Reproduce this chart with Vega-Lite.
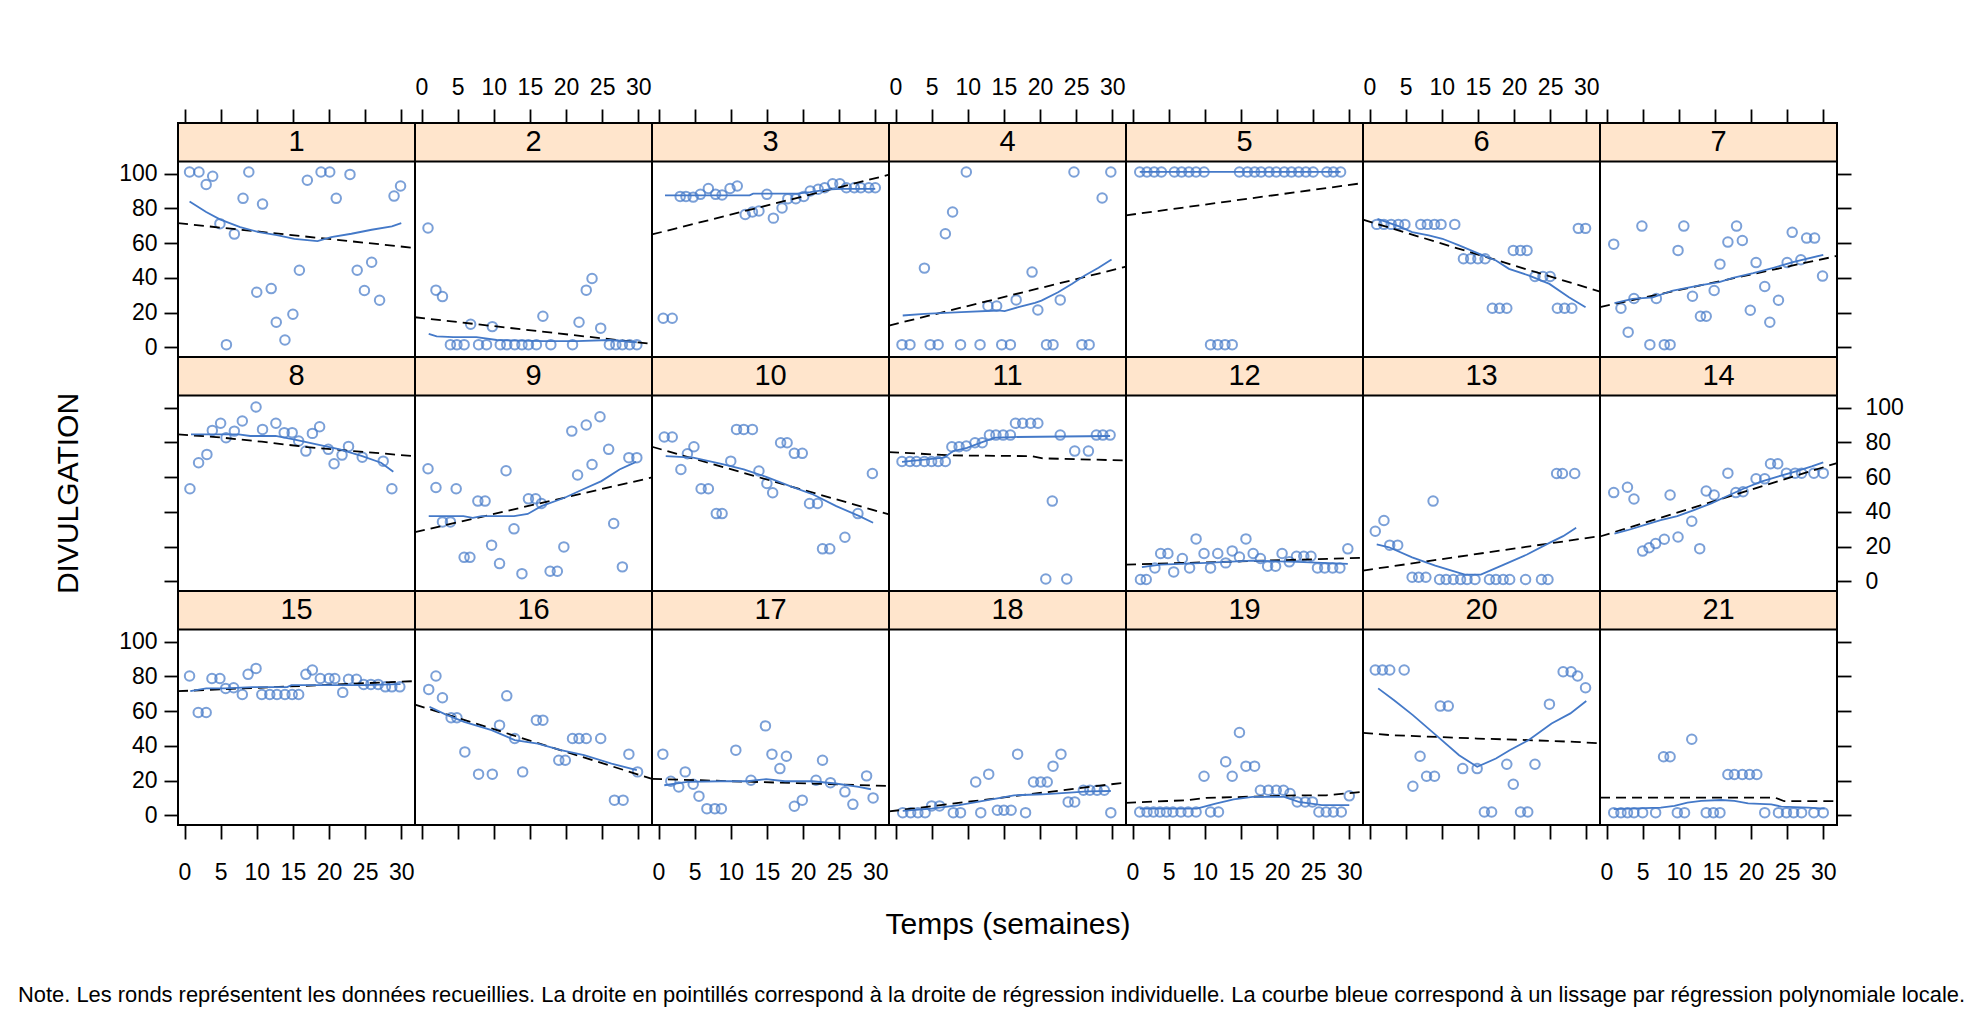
{
"$schema":"https://vega.github.io/schema/vega-lite/v6.json",
"padding":{"left":18,"top":75,"right":5,"bottom":5},
"background":"white",
"title":{"text":"Note. Les ronds représentent les données recueillies. La droite en pointillés correspond à la droite de régression individuelle. La courbe bleue correspond à un lissage par régression polynomiale locale.","orient":"bottom","anchor":"start","frame":"group","dx":-160,"offset":45,"font":"Liberation Sans","fontSize":21.9,"fontWeight":"normal","color":"black"},
"config":{
"view":{"stroke":"black","strokeWidth":2},
"axis":{"domain":false,"grid":false,"ticks":true,"tickSize":14,"tickWidth":1.8,"tickColor":"black","labelFont":"Liberation Sans","labelFontSize":23,"labelColor":"black","labelFlush":false,"labelOverlap":false,"titleFont":"Liberation Sans","titleFontSize":30,"titleFontWeight":"normal","titleColor":"black"},
"point":{"shape":"circle","filled":false,"color":"#4479C8","strokeWidth":2,"size":90},
"line":{"color":"#4479C8","strokeWidth":1.8},
"rect":{"fill":"#FFE5CC","stroke":"black","strokeWidth":2},
"text":{"font":"Liberation Sans","fontSize":29,"fill":"black"}
},
"datasets":{
"pts":[
{"p":1,"x":0.7,"y":101},{"p":1,"x":2.0,"y":101},{"p":1,"x":3.0,"y":93.8},{"p":1,"x":3.9,"y":98.5},{"p":1,"x":4.9,"y":71.2},{"p":1,"x":5.8,"y":1.5},{"p":1,"x":6.9,"y":65.2},{"p":1,"x":8.1,"y":85.8},{"p":1,"x":8.9,"y":101},{"p":1,"x":10.0,"y":31.7},{"p":1,"x":10.8,"y":82.5},{"p":1,"x":12.0,"y":33.8},{"p":1,"x":12.7,"y":14.4},{"p":1,"x":13.9,"y":4.2},{"p":1,"x":15.0,"y":19},{"p":1,"x":15.9,"y":44.4},{"p":1,"x":17.0,"y":96.2},{"p":1,"x":18.9,"y":101},{"p":1,"x":20.1,"y":101},{"p":1,"x":21.0,"y":85.8},{"p":1,"x":22.9,"y":99.6},{"p":1,"x":23.9,"y":44.4},{"p":1,"x":24.9,"y":32.7},{"p":1,"x":25.9,"y":49},{"p":1,"x":27.0,"y":27.1},{"p":1,"x":29.0,"y":87.1},{"p":1,"x":29.9,"y":92.9},
{"p":2,"x":0.9,"y":68.7},{"p":2,"x":2.0,"y":32.9},{"p":2,"x":2.9,"y":29.2},{"p":2,"x":4.0,"y":1.5},{"p":2,"x":4.9,"y":1.5},{"p":2,"x":5.9,"y":1.5},{"p":2,"x":6.8,"y":13.3},{"p":2,"x":7.9,"y":1.5},{"p":2,"x":9.0,"y":1.5},{"p":2,"x":9.8,"y":11.9},{"p":2,"x":10.9,"y":1.5},{"p":2,"x":11.8,"y":1.5},{"p":2,"x":12.9,"y":1.5},{"p":2,"x":13.9,"y":1.5},{"p":2,"x":14.8,"y":1.5},{"p":2,"x":15.9,"y":1.5},{"p":2,"x":16.8,"y":17.9},{"p":2,"x":17.9,"y":1.5},{"p":2,"x":20.9,"y":1.5},{"p":2,"x":21.8,"y":14.4},{"p":2,"x":22.8,"y":32.9},{"p":2,"x":23.6,"y":39.6},{"p":2,"x":24.8,"y":11.0},{"p":2,"x":26.0,"y":1.5},{"p":2,"x":26.9,"y":1.5},{"p":2,"x":27.8,"y":1.5},{"p":2,"x":28.8,"y":1.5},{"p":2,"x":29.8,"y":1.5},
{"p":3,"x":0.65,"y":16.7},{"p":3,"x":1.9,"y":16.7},{"p":3,"x":3.0,"y":86.9},{"p":3,"x":3.8,"y":86.9},{"p":3,"x":4.8,"y":86.5},{"p":3,"x":5.8,"y":88.1},{"p":3,"x":6.9,"y":91.5},{"p":3,"x":7.9,"y":88.1},{"p":3,"x":8.8,"y":87.7},{"p":3,"x":9.9,"y":91.5},{"p":3,"x":10.9,"y":92.9},{"p":3,"x":12.0,"y":76.5},{"p":3,"x":13.0,"y":77.9},{"p":3,"x":13.9,"y":78.5},{"p":3,"x":15.0,"y":88.1},{"p":3,"x":15.9,"y":74.4},{"p":3,"x":17.1,"y":80.2},{"p":3,"x":17.9,"y":85.6},{"p":3,"x":19.0,"y":85.6},{"p":3,"x":20.1,"y":86.9},{"p":3,"x":21.0,"y":90},{"p":3,"x":22.1,"y":91},{"p":3,"x":23.0,"y":91.9},{"p":3,"x":24.1,"y":94.2},{"p":3,"x":25.1,"y":94.2},{"p":3,"x":26.0,"y":91.9},{"p":3,"x":27.1,"y":91.9},{"p":3,"x":28.0,"y":91.9},{"p":3,"x":29.1,"y":91.9},{"p":3,"x":30.0,"y":91.9},
{"p":4,"x":0.9,"y":1.5},{"p":4,"x":2.0,"y":1.5},{"p":4,"x":4.0,"y":45.6},{"p":4,"x":4.8,"y":1.5},{"p":4,"x":5.9,"y":1.5},{"p":4,"x":6.9,"y":65.4},{"p":4,"x":7.9,"y":77.9},{"p":4,"x":9.0,"y":1.5},{"p":4,"x":9.8,"y":101},{"p":4,"x":11.7,"y":1.5},{"p":4,"x":12.8,"y":23.8},{"p":4,"x":14.0,"y":23.8},{"p":4,"x":14.7,"y":1.5},{"p":4,"x":15.9,"y":1.5},{"p":4,"x":16.7,"y":27.3},{"p":4,"x":18.9,"y":43.3},{"p":4,"x":19.7,"y":21.5},{"p":4,"x":20.9,"y":1.5},{"p":4,"x":21.8,"y":1.5},{"p":4,"x":22.8,"y":27.3},{"p":4,"x":24.7,"y":101},{"p":4,"x":25.8,"y":1.5},{"p":4,"x":26.8,"y":1.5},{"p":4,"x":28.6,"y":86},{"p":4,"x":29.8,"y":101},
{"p":5,"x":1.0,"y":101},{"p":5,"x":2.0,"y":101},{"p":5,"x":3.0,"y":101},{"p":5,"x":4.0,"y":101},{"p":5,"x":5.8,"y":101},{"p":5,"x":6.8,"y":101},{"p":5,"x":7.8,"y":101},{"p":5,"x":8.8,"y":101},{"p":5,"x":9.9,"y":101},{"p":5,"x":10.8,"y":1.5},{"p":5,"x":11.8,"y":1.5},{"p":5,"x":12.8,"y":1.5},{"p":5,"x":13.8,"y":1.5},{"p":5,"x":14.8,"y":101},{"p":5,"x":15.9,"y":101},{"p":5,"x":16.9,"y":101},{"p":5,"x":17.8,"y":101},{"p":5,"x":18.9,"y":101},{"p":5,"x":19.9,"y":101},{"p":5,"x":21.0,"y":101},{"p":5,"x":22.0,"y":101},{"p":5,"x":23.0,"y":101},{"p":5,"x":24.0,"y":101},{"p":5,"x":25.0,"y":101},{"p":5,"x":26.9,"y":101},{"p":5,"x":27.8,"y":101},{"p":5,"x":28.8,"y":101},
{"p":6,"x":1.0,"y":70.8},{"p":6,"x":2.0,"y":70.8},{"p":6,"x":3.0,"y":70.8},{"p":6,"x":4.0,"y":70.8},{"p":6,"x":4.9,"y":70.8},{"p":6,"x":7.1,"y":70.8},{"p":6,"x":8.0,"y":70.8},{"p":6,"x":9.0,"y":70.8},{"p":6,"x":9.9,"y":70.8},{"p":6,"x":11.8,"y":70.8},{"p":6,"x":13.0,"y":51},{"p":6,"x":14.0,"y":51},{"p":6,"x":15.0,"y":51},{"p":6,"x":16.0,"y":51},{"p":6,"x":17.0,"y":22.5},{"p":6,"x":18.0,"y":22.5},{"p":6,"x":19.0,"y":22.5},{"p":6,"x":19.9,"y":55.8},{"p":6,"x":20.9,"y":55.8},{"p":6,"x":21.8,"y":55.8},{"p":6,"x":22.9,"y":40.8},{"p":6,"x":24.0,"y":40.8},{"p":6,"x":25.0,"y":40.8},{"p":6,"x":26.0,"y":22.5},{"p":6,"x":27.0,"y":22.5},{"p":6,"x":28.0,"y":22.5},{"p":6,"x":28.9,"y":68.5},{"p":6,"x":29.9,"y":68.5},
{"p":7,"x":1.0,"y":59.4},{"p":7,"x":2.0,"y":22.5},{"p":7,"x":3.0,"y":8.7},{"p":7,"x":3.8,"y":28.1},{"p":7,"x":4.9,"y":69.8},{"p":7,"x":6.0,"y":1.5},{"p":7,"x":6.9,"y":28.1},{"p":7,"x":8.0,"y":1.5},{"p":7,"x":8.8,"y":1.5},{"p":7,"x":9.9,"y":55.8},{"p":7,"x":10.7,"y":69.8},{"p":7,"x":11.9,"y":29.4},{"p":7,"x":13.0,"y":17.9},{"p":7,"x":13.8,"y":17.9},{"p":7,"x":14.9,"y":32.7},{"p":7,"x":15.7,"y":47.9},{"p":7,"x":16.8,"y":60.6},{"p":7,"x":18.0,"y":69.8},{"p":7,"x":18.8,"y":61.5},{"p":7,"x":19.9,"y":21.3},{"p":7,"x":20.7,"y":48.8},{"p":7,"x":21.9,"y":35},{"p":7,"x":22.6,"y":14.4},{"p":7,"x":23.8,"y":27.1},{"p":7,"x":25.0,"y":48.8},{"p":7,"x":25.7,"y":66.2},{"p":7,"x":26.9,"y":50.4},{"p":7,"x":27.7,"y":62.9},{"p":7,"x":28.8,"y":62.9},{"p":7,"x":29.9,"y":41},
{"p":8,"x":0.75,"y":53.3},{"p":8,"x":1.95,"y":68.3},{"p":8,"x":3.1,"y":73.1},{"p":8,"x":3.85,"y":86.9},{"p":8,"x":5.0,"y":91},{"p":8,"x":5.75,"y":82.7},{"p":8,"x":6.9,"y":86.5},{"p":8,"x":8.0,"y":92.3},{"p":8,"x":9.9,"y":100.4},{"p":8,"x":10.8,"y":87.5},{"p":8,"x":12.65,"y":91},{"p":8,"x":13.8,"y":85.6},{"p":8,"x":14.9,"y":85.6},{"p":8,"x":15.8,"y":80.8},{"p":8,"x":16.8,"y":75},{"p":8,"x":17.7,"y":85.2},{"p":8,"x":18.7,"y":89},{"p":8,"x":19.9,"y":76},{"p":8,"x":20.7,"y":67.7},{"p":8,"x":21.8,"y":72.7},{"p":8,"x":22.7,"y":77.7},{"p":8,"x":24.6,"y":71.5},{"p":8,"x":27.5,"y":69.2},{"p":8,"x":28.7,"y":53.3},
{"p":9,"x":0.9,"y":64.8},{"p":9,"x":2.0,"y":54},{"p":9,"x":2.9,"y":34.2},{"p":9,"x":4.0,"y":34.2},{"p":9,"x":4.8,"y":53.3},{"p":9,"x":5.9,"y":13.8},{"p":9,"x":6.7,"y":13.8},{"p":9,"x":7.8,"y":46.2},{"p":9,"x":8.8,"y":46.2},{"p":9,"x":9.7,"y":20.8},{"p":9,"x":10.8,"y":10.2},{"p":9,"x":11.7,"y":63.7},{"p":9,"x":12.8,"y":30.2},{"p":9,"x":13.9,"y":4.4},{"p":9,"x":14.8,"y":47.5},{"p":9,"x":15.8,"y":47.5},{"p":9,"x":16.6,"y":44.8},{"p":9,"x":17.8,"y":5.8},{"p":9,"x":18.8,"y":5.8},{"p":9,"x":19.7,"y":19.8},{"p":9,"x":20.8,"y":86.5},{"p":9,"x":21.6,"y":61.2},{"p":9,"x":22.8,"y":90},{"p":9,"x":23.6,"y":67.3},{"p":9,"x":24.7,"y":94.8},{"p":9,"x":25.9,"y":76},{"p":9,"x":26.6,"y":33.3},{"p":9,"x":27.8,"y":8.3},{"p":9,"x":28.7,"y":71.2},{"p":9,"x":29.8,"y":71.2},
{"p":10,"x":0.8,"y":83.1},{"p":10,"x":1.9,"y":83.1},{"p":10,"x":3.1,"y":64.4},{"p":10,"x":4.0,"y":73.5},{"p":10,"x":4.9,"y":77.5},{"p":10,"x":5.9,"y":53.3},{"p":10,"x":6.9,"y":53.3},{"p":10,"x":8.0,"y":39},{"p":10,"x":8.8,"y":39},{"p":10,"x":10.0,"y":69.2},{"p":10,"x":10.8,"y":87.5},{"p":10,"x":11.8,"y":87.5},{"p":10,"x":13.0,"y":87.5},{"p":10,"x":13.9,"y":63.5},{"p":10,"x":15.0,"y":56.3},{"p":10,"x":15.8,"y":51},{"p":10,"x":16.9,"y":79.8},{"p":10,"x":17.8,"y":79.8},{"p":10,"x":18.8,"y":73.7},{"p":10,"x":19.9,"y":73.7},{"p":10,"x":20.9,"y":44.8},{"p":10,"x":22.0,"y":44.8},{"p":10,"x":22.7,"y":18.7},{"p":10,"x":23.7,"y":18.7},{"p":10,"x":25.8,"y":25.4},{"p":10,"x":27.6,"y":39},{"p":10,"x":29.6,"y":62.1},
{"p":11,"x":0.9,"y":69},{"p":11,"x":2.0,"y":69},{"p":11,"x":2.9,"y":69},{"p":11,"x":4.0,"y":69},{"p":11,"x":5.0,"y":69},{"p":11,"x":5.9,"y":69},{"p":11,"x":6.9,"y":69},{"p":11,"x":7.8,"y":77.5},{"p":11,"x":8.8,"y":77.5},{"p":11,"x":9.8,"y":77.9},{"p":11,"x":11.0,"y":79.8},{"p":11,"x":12.0,"y":79.8},{"p":11,"x":13.0,"y":84.2},{"p":11,"x":13.9,"y":84.2},{"p":11,"x":14.9,"y":84.2},{"p":11,"x":15.9,"y":84.2},{"p":11,"x":16.6,"y":91},{"p":11,"x":17.6,"y":91},{"p":11,"x":18.7,"y":91},{"p":11,"x":19.7,"y":91},{"p":11,"x":20.8,"y":1.3},{"p":11,"x":21.7,"y":46.2},{"p":11,"x":22.8,"y":84.2},{"p":11,"x":23.7,"y":1.3},{"p":11,"x":24.8,"y":75},{"p":11,"x":26.7,"y":75},{"p":11,"x":27.8,"y":84.2},{"p":11,"x":28.7,"y":84.2},{"p":11,"x":29.7,"y":84.2},
{"p":12,"x":1.1,"y":1},{"p":12,"x":1.9,"y":1},{"p":12,"x":3.1,"y":7.7},{"p":12,"x":3.9,"y":16},{"p":12,"x":4.9,"y":16},{"p":12,"x":5.7,"y":5.4},{"p":12,"x":6.9,"y":13.1},{"p":12,"x":7.9,"y":7.7},{"p":12,"x":8.8,"y":24.4},{"p":12,"x":9.9,"y":16},{"p":12,"x":10.8,"y":7.7},{"p":12,"x":11.8,"y":16},{"p":12,"x":12.9,"y":10.6},{"p":12,"x":13.8,"y":17.5},{"p":12,"x":14.8,"y":14},{"p":12,"x":15.7,"y":24.4},{"p":12,"x":16.7,"y":16},{"p":12,"x":17.7,"y":13.1},{"p":12,"x":18.7,"y":8.7},{"p":12,"x":19.8,"y":8.7},{"p":12,"x":20.7,"y":16},{"p":12,"x":21.7,"y":11.2},{"p":12,"x":22.7,"y":14.4},{"p":12,"x":23.7,"y":14.4},{"p":12,"x":24.7,"y":14.4},{"p":12,"x":25.6,"y":7.7},{"p":12,"x":26.6,"y":7.7},{"p":12,"x":27.7,"y":7.7},{"p":12,"x":28.7,"y":7.7},{"p":12,"x":29.8,"y":18.7},
{"p":13,"x":0.8,"y":28.8},{"p":13,"x":2.0,"y":35},{"p":13,"x":2.8,"y":20.8},{"p":13,"x":3.9,"y":20.8},{"p":13,"x":5.9,"y":2.3},{"p":13,"x":6.8,"y":2.3},{"p":13,"x":7.8,"y":2.3},{"p":13,"x":8.8,"y":46.2},{"p":13,"x":9.7,"y":1},{"p":13,"x":10.6,"y":1},{"p":13,"x":11.6,"y":1},{"p":13,"x":12.6,"y":1},{"p":13,"x":13.5,"y":1},{"p":13,"x":14.6,"y":1},{"p":13,"x":16.6,"y":1},{"p":13,"x":17.5,"y":1},{"p":13,"x":18.5,"y":1},{"p":13,"x":19.4,"y":1},{"p":13,"x":21.6,"y":1},{"p":13,"x":23.8,"y":1},{"p":13,"x":24.7,"y":1},{"p":13,"x":25.9,"y":62.1},{"p":13,"x":26.7,"y":62.1},{"p":13,"x":28.4,"y":62.1},
{"p":14,"x":1.0,"y":51.1},{"p":14,"x":2.9,"y":54.2},{"p":14,"x":3.8,"y":47.4},{"p":14,"x":5.0,"y":17.4},{"p":14,"x":5.9,"y":19.3},{"p":14,"x":6.8,"y":21.7},{"p":14,"x":8.0,"y":24.2},{"p":14,"x":8.8,"y":49.7},{"p":14,"x":9.9,"y":25.5},{"p":14,"x":11.8,"y":34.6},{"p":14,"x":12.9,"y":18.8},{"p":14,"x":13.8,"y":52},{"p":14,"x":14.9,"y":49.7},{"p":14,"x":16.8,"y":62.3},{"p":14,"x":17.9,"y":51.1},{"p":14,"x":18.9,"y":51.6},{"p":14,"x":20.7,"y":59},{"p":14,"x":21.9,"y":59},{"p":14,"x":22.7,"y":67.7},{"p":14,"x":23.7,"y":67.7},{"p":14,"x":24.9,"y":62.3},{"p":14,"x":26.1,"y":62.3},{"p":14,"x":27.0,"y":62.3},{"p":14,"x":28.7,"y":62.3},{"p":14,"x":30.0,"y":62.3},
{"p":15,"x":0.7,"y":80.2},{"p":15,"x":1.9,"y":59.2},{"p":15,"x":3.0,"y":59.2},{"p":15,"x":3.8,"y":78.8},{"p":15,"x":4.9,"y":78.8},{"p":15,"x":5.7,"y":73.1},{"p":15,"x":6.8,"y":73.5},{"p":15,"x":8.0,"y":69.6},{"p":15,"x":8.8,"y":81.2},{"p":15,"x":9.9,"y":84.6},{"p":15,"x":10.7,"y":69.6},{"p":15,"x":11.8,"y":69.6},{"p":15,"x":12.8,"y":69.6},{"p":15,"x":13.9,"y":69.6},{"p":15,"x":14.9,"y":69.6},{"p":15,"x":15.8,"y":69.6},{"p":15,"x":16.8,"y":81.2},{"p":15,"x":17.7,"y":83.7},{"p":15,"x":18.8,"y":78.8},{"p":15,"x":20.0,"y":78.8},{"p":15,"x":20.8,"y":78.8},{"p":15,"x":21.9,"y":70.8},{"p":15,"x":22.7,"y":78.3},{"p":15,"x":23.8,"y":78.3},{"p":15,"x":24.8,"y":75.4},{"p":15,"x":25.8,"y":75.4},{"p":15,"x":26.8,"y":75.4},{"p":15,"x":27.8,"y":74},{"p":15,"x":28.7,"y":74},{"p":15,"x":29.8,"y":74},
{"p":16,"x":1.0,"y":72.5},{"p":16,"x":2.0,"y":80.2},{"p":16,"x":2.9,"y":67.7},{"p":16,"x":4.1,"y":56.2},{"p":16,"x":4.9,"y":56.2},{"p":16,"x":6.0,"y":36.5},{"p":16,"x":7.9,"y":23.7},{"p":16,"x":9.8,"y":23.7},{"p":16,"x":10.8,"y":51.9},{"p":16,"x":11.8,"y":68.8},{"p":16,"x":12.9,"y":44.2},{"p":16,"x":14.0,"y":25},{"p":16,"x":15.9,"y":54.8},{"p":16,"x":16.8,"y":54.8},{"p":16,"x":19.0,"y":31.7},{"p":16,"x":19.9,"y":31.7},{"p":16,"x":20.9,"y":44.2},{"p":16,"x":21.8,"y":44.2},{"p":16,"x":22.8,"y":44.2},{"p":16,"x":24.8,"y":44.2},{"p":16,"x":26.7,"y":8.7},{"p":16,"x":27.9,"y":8.7},{"p":16,"x":28.7,"y":35.2},{"p":16,"x":29.9,"y":25},
{"p":17,"x":0.6,"y":35.2},{"p":17,"x":1.7,"y":19.6},{"p":17,"x":2.8,"y":16.3},{"p":17,"x":3.7,"y":25},{"p":17,"x":4.8,"y":17.9},{"p":17,"x":5.6,"y":11},{"p":17,"x":6.7,"y":3.8},{"p":17,"x":7.8,"y":3.8},{"p":17,"x":8.7,"y":3.8},{"p":17,"x":10.7,"y":37.5},{"p":17,"x":12.8,"y":20.2},{"p":17,"x":14.8,"y":51.5},{"p":17,"x":15.7,"y":35.2},{"p":17,"x":16.8,"y":26.9},{"p":17,"x":17.7,"y":34},{"p":17,"x":18.8,"y":5.2},{"p":17,"x":19.9,"y":8.7},{"p":17,"x":21.8,"y":20.2},{"p":17,"x":22.7,"y":31.7},{"p":17,"x":23.8,"y":18.8},{"p":17,"x":25.8,"y":13.5},{"p":17,"x":26.9,"y":6.3},{"p":17,"x":28.8,"y":22.7},{"p":17,"x":29.7,"y":10},
{"p":18,"x":1.0,"y":1.5},{"p":18,"x":2.1,"y":1.5},{"p":18,"x":3.1,"y":1.5},{"p":18,"x":4.1,"y":1.5},{"p":18,"x":5.0,"y":5.4},{"p":18,"x":6.1,"y":5.4},{"p":18,"x":8.0,"y":1.5},{"p":18,"x":9.0,"y":1.5},{"p":18,"x":11.1,"y":19.2},{"p":18,"x":11.8,"y":1.5},{"p":18,"x":12.9,"y":23.7},{"p":18,"x":14.1,"y":2.9},{"p":18,"x":15.0,"y":2.9},{"p":18,"x":16.0,"y":2.9},{"p":18,"x":16.9,"y":35.2},{"p":18,"x":18.0,"y":1.5},{"p":18,"x":19.1,"y":19.2},{"p":18,"x":20.1,"y":19.2},{"p":18,"x":21.0,"y":19.2},{"p":18,"x":21.8,"y":28.3},{"p":18,"x":22.9,"y":35.2},{"p":18,"x":23.9,"y":7.7},{"p":18,"x":24.8,"y":7.7},{"p":18,"x":26.0,"y":14.4},{"p":18,"x":26.9,"y":14.4},{"p":18,"x":27.9,"y":14.4},{"p":18,"x":28.9,"y":14.4},{"p":18,"x":29.8,"y":1.5},
{"p":19,"x":1.0,"y":1.9},{"p":19,"x":2.0,"y":1.9},{"p":19,"x":2.9,"y":1.9},{"p":19,"x":3.8,"y":1.9},{"p":19,"x":4.7,"y":1.9},{"p":19,"x":5.6,"y":1.9},{"p":19,"x":6.7,"y":1.9},{"p":19,"x":7.7,"y":1.9},{"p":19,"x":8.8,"y":1.9},{"p":19,"x":9.9,"y":22.5},{"p":19,"x":10.8,"y":1.9},{"p":19,"x":11.9,"y":1.9},{"p":19,"x":12.9,"y":30.8},{"p":19,"x":13.8,"y":22.5},{"p":19,"x":14.8,"y":47.7},{"p":19,"x":15.7,"y":28.3},{"p":19,"x":16.9,"y":28.3},{"p":19,"x":17.7,"y":14.4},{"p":19,"x":18.8,"y":14.4},{"p":19,"x":19.9,"y":14.4},{"p":19,"x":20.9,"y":14.4},{"p":19,"x":21.8,"y":12.5},{"p":19,"x":22.8,"y":7.7},{"p":19,"x":23.9,"y":7.7},{"p":19,"x":24.9,"y":7.7},{"p":19,"x":25.8,"y":1.9},{"p":19,"x":26.8,"y":1.9},{"p":19,"x":27.8,"y":1.9},{"p":19,"x":28.9,"y":1.9},{"p":19,"x":30.0,"y":11.2},
{"p":20,"x":0.8,"y":83.7},{"p":20,"x":1.8,"y":83.7},{"p":20,"x":2.8,"y":83.7},{"p":20,"x":4.8,"y":83.7},{"p":20,"x":6.0,"y":16.7},{"p":20,"x":7.0,"y":34},{"p":20,"x":7.9,"y":22.5},{"p":20,"x":9.0,"y":22.5},{"p":20,"x":9.8,"y":62.9},{"p":20,"x":10.9,"y":62.9},{"p":20,"x":12.9,"y":26.9},{"p":20,"x":14.9,"y":26.9},{"p":20,"x":15.9,"y":1.9},{"p":20,"x":16.9,"y":1.9},{"p":20,"x":19.0,"y":29.4},{"p":20,"x":19.9,"y":17.9},{"p":20,"x":20.9,"y":1.9},{"p":20,"x":21.9,"y":1.9},{"p":20,"x":22.9,"y":29.4},{"p":20,"x":24.9,"y":64},{"p":20,"x":26.8,"y":82.7},{"p":20,"x":27.9,"y":82.7},{"p":20,"x":28.8,"y":80.2},{"p":20,"x":29.9,"y":73.5},
{"p":21,"x":1.0,"y":1.5},{"p":21,"x":2.0,"y":1.5},{"p":21,"x":2.9,"y":1.5},{"p":21,"x":3.8,"y":1.5},{"p":21,"x":5.0,"y":1.5},{"p":21,"x":6.8,"y":1.5},{"p":21,"x":7.9,"y":33.7},{"p":21,"x":8.8,"y":33.7},{"p":21,"x":9.8,"y":1.5},{"p":21,"x":10.8,"y":1.5},{"p":21,"x":11.8,"y":43.8},{"p":21,"x":13.8,"y":1.5},{"p":21,"x":14.8,"y":1.5},{"p":21,"x":15.7,"y":1.5},{"p":21,"x":16.8,"y":23.5},{"p":21,"x":17.7,"y":23.5},{"p":21,"x":18.8,"y":23.5},{"p":21,"x":19.8,"y":23.5},{"p":21,"x":20.8,"y":23.5},{"p":21,"x":21.9,"y":1.5},{"p":21,"x":23.8,"y":1.5},{"p":21,"x":24.9,"y":1.5},{"p":21,"x":25.9,"y":1.5},{"p":21,"x":27.0,"y":1.5},{"p":21,"x":28.7,"y":1.5},{"p":21,"x":30.0,"y":1.5}
],
"reg":[
{"p":1,"x":-0.9,"y":71.5},{"p":1,"x":31.9,"y":57.2},
{"p":2,"x":-0.9,"y":17.3},{"p":2,"x":31.9,"y":1.9},
{"p":3,"x":-0.9,"y":65},{"p":3,"x":31.9,"y":99.4},
{"p":4,"x":-0.9,"y":12.5},{"p":4,"x":31.9,"y":46.4},
{"p":5,"x":-0.9,"y":76},{"p":5,"x":31.9,"y":94.6},
{"p":6,"x":-0.9,"y":73.5},{"p":6,"x":31.9,"y":32.1},
{"p":7,"x":-0.9,"y":23.2},{"p":7,"x":31.9,"y":52.6},
{"p":8,"x":-0.9,"y":84.6},{"p":8,"x":4.4,"y":83.1},{"p":8,"x":10.7,"y":80.4},{"p":8,"x":17.0,"y":77.3},{"p":8,"x":23.4,"y":75},{"p":8,"x":27.8,"y":73.5},{"p":8,"x":31.9,"y":72},
{"p":9,"x":-0.9,"y":28.3},{"p":9,"x":31.9,"y":59.8},
{"p":10,"x":-0.9,"y":77.5},{"p":10,"x":31.9,"y":38.5},
{"p":11,"x":-0.9,"y":74.4},{"p":11,"x":8.0,"y":72.5},{"p":11,"x":18.8,"y":72.1},{"p":11,"x":20.4,"y":70.8},{"p":11,"x":31.9,"y":69.6},
{"p":12,"x":-0.9,"y":9.6},{"p":12,"x":31.9,"y":13.5},
{"p":13,"x":-0.9,"y":6.2},{"p":13,"x":31.9,"y":26},
{"p":14,"x":-0.9,"y":25.8},{"p":14,"x":31.9,"y":68.1},
{"p":15,"x":-0.9,"y":71.5},{"p":15,"x":31.9,"y":77.3},
{"p":16,"x":-0.9,"y":63.8},{"p":16,"x":31.9,"y":21.0},
{"p":17,"x":-0.9,"y":21.0},{"p":17,"x":31.9,"y":16.9},
{"p":18,"x":-0.9,"y":2.2},{"p":18,"x":31.9,"y":18.9},
{"p":19,"x":-0.9,"y":7.2},{"p":19,"x":7.6,"y":8.7},{"p":19,"x":10.2,"y":10},{"p":19,"x":23.0,"y":11.5},{"p":19,"x":26.8,"y":11.5},{"p":19,"x":31.9,"y":13.5},
{"p":20,"x":-0.9,"y":47.5},{"p":20,"x":2.8,"y":46.2},{"p":20,"x":14.9,"y":44.2},{"p":20,"x":22.0,"y":43.3},{"p":20,"x":28.4,"y":42.3},{"p":20,"x":31.9,"y":41.4},
{"p":21,"x":-0.9,"y":10.2},{"p":21,"x":23.3,"y":10.2},{"p":21,"x":24.6,"y":8.1},{"p":21,"x":31.9,"y":8.1}
],
"lo":[
{"p":1,"x":0.7,"y":84},{"p":1,"x":3.0,"y":77.9},{"p":1,"x":4.9,"y":73.7},{"p":1,"x":7.7,"y":69.2},{"p":1,"x":10.3,"y":66.3},{"p":1,"x":12.8,"y":64.6},{"p":1,"x":15.2,"y":62.5},{"p":1,"x":18.4,"y":61.2},{"p":1,"x":20.3,"y":63.5},{"p":1,"x":23.1,"y":65.4},{"p":1,"x":25.9,"y":67.7},{"p":1,"x":28.7,"y":69.6},{"p":1,"x":30,"y":71.5},
{"p":2,"x":1.0,"y":7.7},{"p":2,"x":2.1,"y":6.3},{"p":2,"x":4.4,"y":5.8},{"p":2,"x":7.6,"y":5.8},{"p":2,"x":10.4,"y":4.2},{"p":2,"x":16.9,"y":3.5},{"p":2,"x":21.5,"y":3.5},{"p":2,"x":26.1,"y":4.2},{"p":2,"x":29.8,"y":2.9},
{"p":3,"x":0.9,"y":87.5},{"p":3,"x":12.6,"y":87.5},{"p":3,"x":13.1,"y":88.5},{"p":3,"x":19.2,"y":88.5},{"p":3,"x":21.0,"y":89.4},{"p":3,"x":23.3,"y":90.8},{"p":3,"x":25.2,"y":91.3},{"p":3,"x":30,"y":91.3},
{"p":4,"x":1.0,"y":18.3},{"p":4,"x":4.0,"y":19.2},{"p":4,"x":9.1,"y":20.2},{"p":4,"x":14.2,"y":21.2},{"p":4,"x":15.1,"y":20.8},{"p":4,"x":17,"y":23.1},{"p":4,"x":19.3,"y":25.6},{"p":4,"x":20.2,"y":26.9},{"p":4,"x":22.5,"y":31.7},{"p":4,"x":24.4,"y":36.5},{"p":4,"x":26.2,"y":41.3},{"p":4,"x":28.1,"y":45.8},{"p":4,"x":29.9,"y":50.6},
{"p":5,"x":1.0,"y":101},{"p":5,"x":28.8,"y":101},
{"p":6,"x":1.1,"y":74},{"p":6,"x":4.1,"y":69.6},{"p":6,"x":5.9,"y":66.3},{"p":6,"x":8.2,"y":64.4},{"p":6,"x":10.1,"y":62.5},{"p":6,"x":12.4,"y":58.7},{"p":6,"x":15.2,"y":53.8},{"p":6,"x":17.5,"y":50},{"p":6,"x":19.3,"y":45.2},{"p":6,"x":22.1,"y":41.3},{"p":6,"x":24.9,"y":36.5},{"p":6,"x":27.6,"y":28.8},{"p":6,"x":29.9,"y":23.1},
{"p":7,"x":1.1,"y":25.4},{"p":7,"x":3.6,"y":27.9},{"p":7,"x":6.4,"y":28.8},{"p":7,"x":9.2,"y":32.7},{"p":7,"x":12.9,"y":35.6},{"p":7,"x":15.6,"y":37.5},{"p":7,"x":17.5,"y":40},{"p":7,"x":20.3,"y":42.7},{"p":7,"x":23.1,"y":45.8},{"p":7,"x":25.8,"y":49},{"p":7,"x":30,"y":53.3},
{"p":8,"x":0.9,"y":84.6},{"p":8,"x":4.4,"y":84.6},{"p":8,"x":7.5,"y":84.6},{"p":8,"x":9.1,"y":83.7},{"p":8,"x":12.6,"y":83.7},{"p":8,"x":15.1,"y":81.7},{"p":8,"x":18.3,"y":78.8},{"p":8,"x":21.5,"y":76},{"p":8,"x":24.6,"y":72.1},{"p":8,"x":27.2,"y":68.3},{"p":8,"x":28.9,"y":63.1},
{"p":9,"x":1.0,"y":37.5},{"p":9,"x":5.8,"y":37.5},{"p":9,"x":7.1,"y":36.5},{"p":9,"x":8.3,"y":37.5},{"p":9,"x":12.8,"y":37.5},{"p":9,"x":14.7,"y":38.8},{"p":9,"x":16.6,"y":43.3},{"p":9,"x":19.8,"y":48.1},{"p":9,"x":22.3,"y":52.9},{"p":9,"x":24.9,"y":57.7},{"p":9,"x":27.4,"y":64.4},{"p":9,"x":29.7,"y":68.8},
{"p":10,"x":1.0,"y":72.1},{"p":10,"x":4.8,"y":71.2},{"p":10,"x":8.7,"y":67.7},{"p":10,"x":11.8,"y":64.4},{"p":10,"x":15.0,"y":60},{"p":10,"x":18.2,"y":54.8},{"p":10,"x":21.4,"y":50},{"p":10,"x":24.6,"y":43.3},{"p":10,"x":27.8,"y":37.5},{"p":10,"x":29.7,"y":33.7},
{"p":11,"x":0.9,"y":68.8},{"p":11,"x":6.7,"y":71.2},{"p":11,"x":8.0,"y":75},{"p":11,"x":9.9,"y":76.9},{"p":11,"x":12.2,"y":80.4},{"p":11,"x":13.8,"y":82.7},{"p":11,"x":16.3,"y":83.1},{"p":11,"x":29.7,"y":83.7},
{"p":12,"x":1.3,"y":8.1},{"p":12,"x":3.9,"y":9.6},{"p":12,"x":10.2,"y":10.6},{"p":12,"x":16.5,"y":11.9},{"p":12,"x":22.8,"y":11.2},{"p":12,"x":29.8,"y":10},
{"p":13,"x":1.0,"y":21.2},{"p":13,"x":2.7,"y":19.6},{"p":13,"x":5.9,"y":13.8},{"p":13,"x":9.1,"y":9},{"p":13,"x":11.6,"y":5.8},{"p":13,"x":13.2,"y":3.8},{"p":13,"x":15.4,"y":3.8},{"p":13,"x":18.6,"y":9.6},{"p":13,"x":21.8,"y":15.4},{"p":13,"x":24.9,"y":22.1},{"p":13,"x":26.8,"y":26},{"p":13,"x":28.6,"y":30.8},
{"p":14,"x":1.1,"y":27.5},{"p":14,"x":2.9,"y":29.4},{"p":14,"x":5.2,"y":32.3},{"p":14,"x":7.5,"y":35.2},{"p":14,"x":9.8,"y":37.5},{"p":14,"x":12.1,"y":41},{"p":14,"x":14.5,"y":44.9},{"p":14,"x":16.8,"y":49.3},{"p":14,"x":19.1,"y":53.6},{"p":14,"x":21.4,"y":57.4},{"p":14,"x":23.7,"y":60.3},{"p":14,"x":26.1,"y":63.2},{"p":14,"x":28.4,"y":66.2},{"p":14,"x":30.0,"y":68.5},
{"p":15,"x":0.8,"y":71.5},{"p":15,"x":3.0,"y":73.1},{"p":15,"x":5.6,"y":73.1},{"p":15,"x":9.4,"y":73.8},{"p":15,"x":14.2,"y":73.8},{"p":15,"x":14.8,"y":75},{"p":15,"x":19.0,"y":75},{"p":15,"x":24.8,"y":75},{"p":15,"x":29.9,"y":75.6},
{"p":16,"x":1.1,"y":62.5},{"p":16,"x":3.3,"y":58.1},{"p":16,"x":5.9,"y":53.8},{"p":16,"x":9.7,"y":49},{"p":16,"x":12.9,"y":43.3},{"p":16,"x":16.1,"y":41.3},{"p":16,"x":19.3,"y":37.5},{"p":16,"x":22.5,"y":34.6},{"p":16,"x":26.3,"y":29.8},{"p":16,"x":29.8,"y":26},
{"p":17,"x":0.8,"y":17.3},{"p":17,"x":4.0,"y":19.2},{"p":17,"x":8.5,"y":19.6},{"p":17,"x":12.3,"y":19.6},{"p":17,"x":14.9,"y":20.8},{"p":17,"x":17.5,"y":19.6},{"p":17,"x":21.3,"y":19.6},{"p":17,"x":24.5,"y":18.3},{"p":17,"x":27.7,"y":16.3},{"p":17,"x":29.4,"y":15},
{"p":18,"x":1.0,"y":2.5},{"p":18,"x":5.0,"y":3.8},{"p":18,"x":8.8,"y":5.8},{"p":18,"x":13.9,"y":9.6},{"p":18,"x":16.4,"y":11.5},{"p":18,"x":20.3,"y":12.1},{"p":18,"x":24.1,"y":13.1},{"p":18,"x":26.6,"y":13.8},{"p":18,"x":29.8,"y":14},
{"p":19,"x":1.0,"y":3.8},{"p":19,"x":8.9,"y":3.8},{"p":19,"x":11.5,"y":6.7},{"p":19,"x":14.0,"y":9.2},{"p":19,"x":16.6,"y":10.6},{"p":19,"x":21.0,"y":10.6},{"p":19,"x":23.0,"y":7.7},{"p":19,"x":26.2,"y":5.8},{"p":19,"x":30.0,"y":5.8},
{"p":20,"x":1.2,"y":73.1},{"p":20,"x":3.4,"y":66.3},{"p":20,"x":6.0,"y":57.7},{"p":20,"x":9.2,"y":46.2},{"p":20,"x":12.4,"y":34.6},{"p":20,"x":14.9,"y":27.9},{"p":20,"x":17.5,"y":32.7},{"p":20,"x":19.4,"y":37.5},{"p":20,"x":22.0,"y":43.3},{"p":20,"x":25.2,"y":52.9},{"p":20,"x":27.8,"y":58.7},{"p":20,"x":30.0,"y":65.8},
{"p":21,"x":1.0,"y":3.5},{"p":21,"x":7.5,"y":4.4},{"p":21,"x":9.4,"y":5.4},{"p":21,"x":11.2,"y":7.3},{"p":21,"x":13.1,"y":8.3},{"p":21,"x":15.9,"y":8.8},{"p":21,"x":17.7,"y":8.3},{"p":21,"x":19.6,"y":6.9},{"p":21,"x":22.8,"y":6.3},{"p":21,"x":24.2,"y":5},{"p":21,"x":27.9,"y":4.4},{"p":21,"x":30.2,"y":3.8}
]
},
"columns":7,
"spacing":0,
"bounds":"flush",
"concat":[
{"width":237,"height":234,"layer":[
{"data":{"name":"pts"},"transform":[{"filter":"datum.p==1"}],"mark":"point","encoding":{"x":{"field":"x","type":"quantitative","scale":{"domain":[-0.9,31.9],"nice":false,"zero":false},"axis":{"orient":"top","values":[0,5,10,15,20,25,30],"tickCount":10,"labels":false,"title":null}},"y":{"field":"y","type":"quantitative","scale":{"domain":[-5.6,129.2],"nice":false,"zero":false},"axis":{"orient":"left","values":[0,20,40,60,80,100],"tickCount":10,"labelPadding":7,"labelOverlap":false,"title":null}}}},
{"data":{"values":[{"t":"1"}]},"mark":"rect","encoding":{"x":{"datum":-0.9},"x2":{"datum":31.9},"y":{"datum":107},"y2":{"datum":129.2}}},
{"data":{"values":[{"t":"1"}]},"mark":"text","encoding":{"x":{"datum":15.5},"y":{"datum":118.1},"text":{"field":"t"}}},
{"data":{"name":"reg"},"transform":[{"filter":"datum.p==1"}],"mark":{"type":"line","color":"black","strokeDash":[10,6]},"encoding":{"x":{"field":"x","type":"quantitative"},"y":{"field":"y","type":"quantitative"}}},
{"data":{"name":"lo"},"transform":[{"filter":"datum.p==1"}],"mark":"line","encoding":{"x":{"field":"x","type":"quantitative"},"y":{"field":"y","type":"quantitative"}}}
]},
{"width":237,"height":234,"layer":[
{"data":{"name":"pts"},"transform":[{"filter":"datum.p==2"}],"mark":"point","encoding":{"x":{"field":"x","type":"quantitative","scale":{"domain":[-0.9,31.9],"nice":false,"zero":false},"axis":{"orient":"top","values":[0,5,10,15,20,25,30],"tickCount":10,"labelPadding":10,"labelOverlap":false,"title":null}},"y":{"field":"y","type":"quantitative","scale":{"domain":[-5.6,129.2],"nice":false,"zero":false},"axis":null}}},
{"data":{"values":[{"t":"2"}]},"mark":"rect","encoding":{"x":{"datum":-0.9},"x2":{"datum":31.9},"y":{"datum":107,"axis":null},"y2":{"datum":129.2}}},
{"data":{"values":[{"t":"2"}]},"mark":"text","encoding":{"x":{"datum":15.5},"y":{"datum":118.1,"axis":null},"text":{"field":"t"}}},
{"data":{"name":"reg"},"transform":[{"filter":"datum.p==2"}],"mark":{"type":"line","color":"black","strokeDash":[10,6]},"encoding":{"x":{"field":"x","type":"quantitative"},"y":{"field":"y","type":"quantitative","axis":null}}},
{"data":{"name":"lo"},"transform":[{"filter":"datum.p==2"}],"mark":"line","encoding":{"x":{"field":"x","type":"quantitative"},"y":{"field":"y","type":"quantitative","axis":null}}}
]},
{"width":237,"height":234,"layer":[
{"data":{"name":"pts"},"transform":[{"filter":"datum.p==3"}],"mark":"point","encoding":{"x":{"field":"x","type":"quantitative","scale":{"domain":[-0.9,31.9],"nice":false,"zero":false},"axis":{"orient":"top","values":[0,5,10,15,20,25,30],"tickCount":10,"labels":false,"title":null}},"y":{"field":"y","type":"quantitative","scale":{"domain":[-5.6,129.2],"nice":false,"zero":false},"axis":null}}},
{"data":{"values":[{"t":"3"}]},"mark":"rect","encoding":{"x":{"datum":-0.9},"x2":{"datum":31.9},"y":{"datum":107,"axis":null},"y2":{"datum":129.2}}},
{"data":{"values":[{"t":"3"}]},"mark":"text","encoding":{"x":{"datum":15.5},"y":{"datum":118.1,"axis":null},"text":{"field":"t"}}},
{"data":{"name":"reg"},"transform":[{"filter":"datum.p==3"}],"mark":{"type":"line","color":"black","strokeDash":[10,6]},"encoding":{"x":{"field":"x","type":"quantitative"},"y":{"field":"y","type":"quantitative","axis":null}}},
{"data":{"name":"lo"},"transform":[{"filter":"datum.p==3"}],"mark":"line","encoding":{"x":{"field":"x","type":"quantitative"},"y":{"field":"y","type":"quantitative","axis":null}}}
]},
{"width":237,"height":234,"layer":[
{"data":{"name":"pts"},"transform":[{"filter":"datum.p==4"}],"mark":"point","encoding":{"x":{"field":"x","type":"quantitative","scale":{"domain":[-0.9,31.9],"nice":false,"zero":false},"axis":{"orient":"top","values":[0,5,10,15,20,25,30],"tickCount":10,"labelPadding":10,"labelOverlap":false,"title":null}},"y":{"field":"y","type":"quantitative","scale":{"domain":[-5.6,129.2],"nice":false,"zero":false},"axis":null}}},
{"data":{"values":[{"t":"4"}]},"mark":"rect","encoding":{"x":{"datum":-0.9},"x2":{"datum":31.9},"y":{"datum":107,"axis":null},"y2":{"datum":129.2}}},
{"data":{"values":[{"t":"4"}]},"mark":"text","encoding":{"x":{"datum":15.5},"y":{"datum":118.1,"axis":null},"text":{"field":"t"}}},
{"data":{"name":"reg"},"transform":[{"filter":"datum.p==4"}],"mark":{"type":"line","color":"black","strokeDash":[10,6]},"encoding":{"x":{"field":"x","type":"quantitative"},"y":{"field":"y","type":"quantitative","axis":null}}},
{"data":{"name":"lo"},"transform":[{"filter":"datum.p==4"}],"mark":"line","encoding":{"x":{"field":"x","type":"quantitative"},"y":{"field":"y","type":"quantitative","axis":null}}}
]},
{"width":237,"height":234,"layer":[
{"data":{"name":"pts"},"transform":[{"filter":"datum.p==5"}],"mark":"point","encoding":{"x":{"field":"x","type":"quantitative","scale":{"domain":[-0.9,31.9],"nice":false,"zero":false},"axis":{"orient":"top","values":[0,5,10,15,20,25,30],"tickCount":10,"labels":false,"title":null}},"y":{"field":"y","type":"quantitative","scale":{"domain":[-5.6,129.2],"nice":false,"zero":false},"axis":null}}},
{"data":{"values":[{"t":"5"}]},"mark":"rect","encoding":{"x":{"datum":-0.9},"x2":{"datum":31.9},"y":{"datum":107,"axis":null},"y2":{"datum":129.2}}},
{"data":{"values":[{"t":"5"}]},"mark":"text","encoding":{"x":{"datum":15.5},"y":{"datum":118.1,"axis":null},"text":{"field":"t"}}},
{"data":{"name":"reg"},"transform":[{"filter":"datum.p==5"}],"mark":{"type":"line","color":"black","strokeDash":[10,6]},"encoding":{"x":{"field":"x","type":"quantitative"},"y":{"field":"y","type":"quantitative","axis":null}}},
{"data":{"name":"lo"},"transform":[{"filter":"datum.p==5"}],"mark":"line","encoding":{"x":{"field":"x","type":"quantitative"},"y":{"field":"y","type":"quantitative","axis":null}}}
]},
{"width":237,"height":234,"layer":[
{"data":{"name":"pts"},"transform":[{"filter":"datum.p==6"}],"mark":"point","encoding":{"x":{"field":"x","type":"quantitative","scale":{"domain":[-0.9,31.9],"nice":false,"zero":false},"axis":{"orient":"top","values":[0,5,10,15,20,25,30],"tickCount":10,"labelPadding":10,"labelOverlap":false,"title":null}},"y":{"field":"y","type":"quantitative","scale":{"domain":[-5.6,129.2],"nice":false,"zero":false},"axis":null}}},
{"data":{"values":[{"t":"6"}]},"mark":"rect","encoding":{"x":{"datum":-0.9},"x2":{"datum":31.9},"y":{"datum":107,"axis":null},"y2":{"datum":129.2}}},
{"data":{"values":[{"t":"6"}]},"mark":"text","encoding":{"x":{"datum":15.5},"y":{"datum":118.1,"axis":null},"text":{"field":"t"}}},
{"data":{"name":"reg"},"transform":[{"filter":"datum.p==6"}],"mark":{"type":"line","color":"black","strokeDash":[10,6]},"encoding":{"x":{"field":"x","type":"quantitative"},"y":{"field":"y","type":"quantitative","axis":null}}},
{"data":{"name":"lo"},"transform":[{"filter":"datum.p==6"}],"mark":"line","encoding":{"x":{"field":"x","type":"quantitative"},"y":{"field":"y","type":"quantitative","axis":null}}}
]},
{"width":237,"height":234,"layer":[
{"data":{"name":"pts"},"transform":[{"filter":"datum.p==7"}],"mark":"point","encoding":{"x":{"field":"x","type":"quantitative","scale":{"domain":[-0.9,31.9],"nice":false,"zero":false},"axis":{"orient":"top","values":[0,5,10,15,20,25,30],"tickCount":10,"labels":false,"title":null}},"y":{"field":"y","type":"quantitative","scale":{"domain":[-5.6,129.2],"nice":false,"zero":false},"axis":{"orient":"right","values":[0,20,40,60,80,100],"tickCount":10,"labels":false,"title":null}}}},
{"data":{"values":[{"t":"7"}]},"mark":"rect","encoding":{"x":{"datum":-0.9},"x2":{"datum":31.9},"y":{"datum":107},"y2":{"datum":129.2}}},
{"data":{"values":[{"t":"7"}]},"mark":"text","encoding":{"x":{"datum":15.5},"y":{"datum":118.1},"text":{"field":"t"}}},
{"data":{"name":"reg"},"transform":[{"filter":"datum.p==7"}],"mark":{"type":"line","color":"black","strokeDash":[10,6]},"encoding":{"x":{"field":"x","type":"quantitative"},"y":{"field":"y","type":"quantitative"}}},
{"data":{"name":"lo"},"transform":[{"filter":"datum.p==7"}],"mark":"line","encoding":{"x":{"field":"x","type":"quantitative"},"y":{"field":"y","type":"quantitative"}}}
]},
{"width":237,"height":234,"layer":[
{"data":{"name":"pts"},"transform":[{"filter":"datum.p==8"}],"mark":"point","encoding":{"x":{"field":"x","type":"quantitative","scale":{"domain":[-0.9,31.9],"nice":false,"zero":false},"axis":null},"y":{"field":"y","type":"quantitative","scale":{"domain":[-5.6,129.2],"nice":false,"zero":false},"axis":{"orient":"left","values":[0,20,40,60,80,100],"tickCount":10,"labels":false,"title":"DIVULGATION","titleX":-95,"titleY":136,"titleAngle":-90,"titleAlign":"center","titleBaseline":"bottom"}}}},
{"data":{"values":[{"t":"8"}]},"mark":"rect","encoding":{"x":{"datum":-0.9,"axis":null},"x2":{"datum":31.9},"y":{"datum":107},"y2":{"datum":129.2}}},
{"data":{"values":[{"t":"8"}]},"mark":"text","encoding":{"x":{"datum":15.5,"axis":null},"y":{"datum":118.1},"text":{"field":"t"}}},
{"data":{"name":"reg"},"transform":[{"filter":"datum.p==8"}],"mark":{"type":"line","color":"black","strokeDash":[10,6]},"encoding":{"x":{"field":"x","type":"quantitative","axis":null},"y":{"field":"y","type":"quantitative"}}},
{"data":{"name":"lo"},"transform":[{"filter":"datum.p==8"}],"mark":"line","encoding":{"x":{"field":"x","type":"quantitative","axis":null},"y":{"field":"y","type":"quantitative"}}}
]},
{"width":237,"height":234,"layer":[
{"data":{"name":"pts"},"transform":[{"filter":"datum.p==9"}],"mark":"point","encoding":{"x":{"field":"x","type":"quantitative","scale":{"domain":[-0.9,31.9],"nice":false,"zero":false},"axis":null},"y":{"field":"y","type":"quantitative","scale":{"domain":[-5.6,129.2],"nice":false,"zero":false},"axis":null}}},
{"data":{"values":[{"t":"9"}]},"mark":"rect","encoding":{"x":{"datum":-0.9,"axis":null},"x2":{"datum":31.9},"y":{"datum":107,"axis":null},"y2":{"datum":129.2}}},
{"data":{"values":[{"t":"9"}]},"mark":"text","encoding":{"x":{"datum":15.5,"axis":null},"y":{"datum":118.1,"axis":null},"text":{"field":"t"}}},
{"data":{"name":"reg"},"transform":[{"filter":"datum.p==9"}],"mark":{"type":"line","color":"black","strokeDash":[10,6]},"encoding":{"x":{"field":"x","type":"quantitative","axis":null},"y":{"field":"y","type":"quantitative","axis":null}}},
{"data":{"name":"lo"},"transform":[{"filter":"datum.p==9"}],"mark":"line","encoding":{"x":{"field":"x","type":"quantitative","axis":null},"y":{"field":"y","type":"quantitative","axis":null}}}
]},
{"width":237,"height":234,"layer":[
{"data":{"name":"pts"},"transform":[{"filter":"datum.p==10"}],"mark":"point","encoding":{"x":{"field":"x","type":"quantitative","scale":{"domain":[-0.9,31.9],"nice":false,"zero":false},"axis":null},"y":{"field":"y","type":"quantitative","scale":{"domain":[-5.6,129.2],"nice":false,"zero":false},"axis":null}}},
{"data":{"values":[{"t":"10"}]},"mark":"rect","encoding":{"x":{"datum":-0.9,"axis":null},"x2":{"datum":31.9},"y":{"datum":107,"axis":null},"y2":{"datum":129.2}}},
{"data":{"values":[{"t":"10"}]},"mark":"text","encoding":{"x":{"datum":15.5,"axis":null},"y":{"datum":118.1,"axis":null},"text":{"field":"t"}}},
{"data":{"name":"reg"},"transform":[{"filter":"datum.p==10"}],"mark":{"type":"line","color":"black","strokeDash":[10,6]},"encoding":{"x":{"field":"x","type":"quantitative","axis":null},"y":{"field":"y","type":"quantitative","axis":null}}},
{"data":{"name":"lo"},"transform":[{"filter":"datum.p==10"}],"mark":"line","encoding":{"x":{"field":"x","type":"quantitative","axis":null},"y":{"field":"y","type":"quantitative","axis":null}}}
]},
{"width":237,"height":234,"layer":[
{"data":{"name":"pts"},"transform":[{"filter":"datum.p==11"}],"mark":"point","encoding":{"x":{"field":"x","type":"quantitative","scale":{"domain":[-0.9,31.9],"nice":false,"zero":false},"axis":null},"y":{"field":"y","type":"quantitative","scale":{"domain":[-5.6,129.2],"nice":false,"zero":false},"axis":null}}},
{"data":{"values":[{"t":"11"}]},"mark":"rect","encoding":{"x":{"datum":-0.9,"axis":null},"x2":{"datum":31.9},"y":{"datum":107,"axis":null},"y2":{"datum":129.2}}},
{"data":{"values":[{"t":"11"}]},"mark":"text","encoding":{"x":{"datum":15.5,"axis":null},"y":{"datum":118.1,"axis":null},"text":{"field":"t"}}},
{"data":{"name":"reg"},"transform":[{"filter":"datum.p==11"}],"mark":{"type":"line","color":"black","strokeDash":[10,6]},"encoding":{"x":{"field":"x","type":"quantitative","axis":null},"y":{"field":"y","type":"quantitative","axis":null}}},
{"data":{"name":"lo"},"transform":[{"filter":"datum.p==11"}],"mark":"line","encoding":{"x":{"field":"x","type":"quantitative","axis":null},"y":{"field":"y","type":"quantitative","axis":null}}}
]},
{"width":237,"height":234,"layer":[
{"data":{"name":"pts"},"transform":[{"filter":"datum.p==12"}],"mark":"point","encoding":{"x":{"field":"x","type":"quantitative","scale":{"domain":[-0.9,31.9],"nice":false,"zero":false},"axis":null},"y":{"field":"y","type":"quantitative","scale":{"domain":[-5.6,129.2],"nice":false,"zero":false},"axis":null}}},
{"data":{"values":[{"t":"12"}]},"mark":"rect","encoding":{"x":{"datum":-0.9,"axis":null},"x2":{"datum":31.9},"y":{"datum":107,"axis":null},"y2":{"datum":129.2}}},
{"data":{"values":[{"t":"12"}]},"mark":"text","encoding":{"x":{"datum":15.5,"axis":null},"y":{"datum":118.1,"axis":null},"text":{"field":"t"}}},
{"data":{"name":"reg"},"transform":[{"filter":"datum.p==12"}],"mark":{"type":"line","color":"black","strokeDash":[10,6]},"encoding":{"x":{"field":"x","type":"quantitative","axis":null},"y":{"field":"y","type":"quantitative","axis":null}}},
{"data":{"name":"lo"},"transform":[{"filter":"datum.p==12"}],"mark":"line","encoding":{"x":{"field":"x","type":"quantitative","axis":null},"y":{"field":"y","type":"quantitative","axis":null}}}
]},
{"width":237,"height":234,"layer":[
{"data":{"name":"pts"},"transform":[{"filter":"datum.p==13"}],"mark":"point","encoding":{"x":{"field":"x","type":"quantitative","scale":{"domain":[-0.9,31.9],"nice":false,"zero":false},"axis":null},"y":{"field":"y","type":"quantitative","scale":{"domain":[-5.6,129.2],"nice":false,"zero":false},"axis":null}}},
{"data":{"values":[{"t":"13"}]},"mark":"rect","encoding":{"x":{"datum":-0.9,"axis":null},"x2":{"datum":31.9},"y":{"datum":107,"axis":null},"y2":{"datum":129.2}}},
{"data":{"values":[{"t":"13"}]},"mark":"text","encoding":{"x":{"datum":15.5,"axis":null},"y":{"datum":118.1,"axis":null},"text":{"field":"t"}}},
{"data":{"name":"reg"},"transform":[{"filter":"datum.p==13"}],"mark":{"type":"line","color":"black","strokeDash":[10,6]},"encoding":{"x":{"field":"x","type":"quantitative","axis":null},"y":{"field":"y","type":"quantitative","axis":null}}},
{"data":{"name":"lo"},"transform":[{"filter":"datum.p==13"}],"mark":"line","encoding":{"x":{"field":"x","type":"quantitative","axis":null},"y":{"field":"y","type":"quantitative","axis":null}}}
]},
{"width":237,"height":234,"layer":[
{"data":{"name":"pts"},"transform":[{"filter":"datum.p==14"}],"mark":"point","encoding":{"x":{"field":"x","type":"quantitative","scale":{"domain":[-0.9,31.9],"nice":false,"zero":false},"axis":null},"y":{"field":"y","type":"quantitative","scale":{"domain":[-5.6,129.2],"nice":false,"zero":false},"axis":{"orient":"right","values":[0,20,40,60,80,100],"tickCount":10,"labelPadding":14,"labelOverlap":false,"title":null}}}},
{"data":{"values":[{"t":"14"}]},"mark":"rect","encoding":{"x":{"datum":-0.9,"axis":null},"x2":{"datum":31.9},"y":{"datum":107},"y2":{"datum":129.2}}},
{"data":{"values":[{"t":"14"}]},"mark":"text","encoding":{"x":{"datum":15.5,"axis":null},"y":{"datum":118.1},"text":{"field":"t"}}},
{"data":{"name":"reg"},"transform":[{"filter":"datum.p==14"}],"mark":{"type":"line","color":"black","strokeDash":[10,6]},"encoding":{"x":{"field":"x","type":"quantitative","axis":null},"y":{"field":"y","type":"quantitative"}}},
{"data":{"name":"lo"},"transform":[{"filter":"datum.p==14"}],"mark":"line","encoding":{"x":{"field":"x","type":"quantitative","axis":null},"y":{"field":"y","type":"quantitative"}}}
]},
{"width":237,"height":234,"layer":[
{"data":{"name":"pts"},"transform":[{"filter":"datum.p==15"}],"mark":"point","encoding":{"x":{"field":"x","type":"quantitative","scale":{"domain":[-0.9,31.9],"nice":false,"zero":false},"axis":{"orient":"bottom","values":[0,5,10,15,20,25,30],"tickCount":10,"labelPadding":22,"labelOverlap":false,"title":null}},"y":{"field":"y","type":"quantitative","scale":{"domain":[-5.6,129.2],"nice":false,"zero":false},"axis":{"orient":"left","values":[0,20,40,60,80,100],"tickCount":10,"labelPadding":7,"labelOverlap":false,"title":null}}}},
{"data":{"values":[{"t":"15"}]},"mark":"rect","encoding":{"x":{"datum":-0.9},"x2":{"datum":31.9},"y":{"datum":107},"y2":{"datum":129.2}}},
{"data":{"values":[{"t":"15"}]},"mark":"text","encoding":{"x":{"datum":15.5},"y":{"datum":118.1},"text":{"field":"t"}}},
{"data":{"name":"reg"},"transform":[{"filter":"datum.p==15"}],"mark":{"type":"line","color":"black","strokeDash":[10,6]},"encoding":{"x":{"field":"x","type":"quantitative"},"y":{"field":"y","type":"quantitative"}}},
{"data":{"name":"lo"},"transform":[{"filter":"datum.p==15"}],"mark":"line","encoding":{"x":{"field":"x","type":"quantitative"},"y":{"field":"y","type":"quantitative"}}}
]},
{"width":237,"height":234,"layer":[
{"data":{"name":"pts"},"transform":[{"filter":"datum.p==16"}],"mark":"point","encoding":{"x":{"field":"x","type":"quantitative","scale":{"domain":[-0.9,31.9],"nice":false,"zero":false},"axis":{"orient":"bottom","values":[0,5,10,15,20,25,30],"tickCount":10,"labels":false,"title":null}},"y":{"field":"y","type":"quantitative","scale":{"domain":[-5.6,129.2],"nice":false,"zero":false},"axis":null}}},
{"data":{"values":[{"t":"16"}]},"mark":"rect","encoding":{"x":{"datum":-0.9},"x2":{"datum":31.9},"y":{"datum":107,"axis":null},"y2":{"datum":129.2}}},
{"data":{"values":[{"t":"16"}]},"mark":"text","encoding":{"x":{"datum":15.5},"y":{"datum":118.1,"axis":null},"text":{"field":"t"}}},
{"data":{"name":"reg"},"transform":[{"filter":"datum.p==16"}],"mark":{"type":"line","color":"black","strokeDash":[10,6]},"encoding":{"x":{"field":"x","type":"quantitative"},"y":{"field":"y","type":"quantitative","axis":null}}},
{"data":{"name":"lo"},"transform":[{"filter":"datum.p==16"}],"mark":"line","encoding":{"x":{"field":"x","type":"quantitative"},"y":{"field":"y","type":"quantitative","axis":null}}}
]},
{"width":237,"height":234,"layer":[
{"data":{"name":"pts"},"transform":[{"filter":"datum.p==17"}],"mark":"point","encoding":{"x":{"field":"x","type":"quantitative","scale":{"domain":[-0.9,31.9],"nice":false,"zero":false},"axis":{"orient":"bottom","values":[0,5,10,15,20,25,30],"tickCount":10,"labelPadding":22,"labelOverlap":false,"title":null}},"y":{"field":"y","type":"quantitative","scale":{"domain":[-5.6,129.2],"nice":false,"zero":false},"axis":null}}},
{"data":{"values":[{"t":"17"}]},"mark":"rect","encoding":{"x":{"datum":-0.9},"x2":{"datum":31.9},"y":{"datum":107,"axis":null},"y2":{"datum":129.2}}},
{"data":{"values":[{"t":"17"}]},"mark":"text","encoding":{"x":{"datum":15.5},"y":{"datum":118.1,"axis":null},"text":{"field":"t"}}},
{"data":{"name":"reg"},"transform":[{"filter":"datum.p==17"}],"mark":{"type":"line","color":"black","strokeDash":[10,6]},"encoding":{"x":{"field":"x","type":"quantitative"},"y":{"field":"y","type":"quantitative","axis":null}}},
{"data":{"name":"lo"},"transform":[{"filter":"datum.p==17"}],"mark":"line","encoding":{"x":{"field":"x","type":"quantitative"},"y":{"field":"y","type":"quantitative","axis":null}}}
]},
{"width":237,"height":234,"layer":[
{"data":{"name":"pts"},"transform":[{"filter":"datum.p==18"}],"mark":"point","encoding":{"x":{"field":"x","type":"quantitative","scale":{"domain":[-0.9,31.9],"nice":false,"zero":false},"axis":{"orient":"bottom","values":[0,5,10,15,20,25,30],"tickCount":10,"labels":false,"title":"Temps (semaines)","titleY":84,"titleBaseline":"top","titleAlign":"center"}},"y":{"field":"y","type":"quantitative","scale":{"domain":[-5.6,129.2],"nice":false,"zero":false},"axis":null}}},
{"data":{"values":[{"t":"18"}]},"mark":"rect","encoding":{"x":{"datum":-0.9},"x2":{"datum":31.9},"y":{"datum":107,"axis":null},"y2":{"datum":129.2}}},
{"data":{"values":[{"t":"18"}]},"mark":"text","encoding":{"x":{"datum":15.5},"y":{"datum":118.1,"axis":null},"text":{"field":"t"}}},
{"data":{"name":"reg"},"transform":[{"filter":"datum.p==18"}],"mark":{"type":"line","color":"black","strokeDash":[10,6]},"encoding":{"x":{"field":"x","type":"quantitative"},"y":{"field":"y","type":"quantitative","axis":null}}},
{"data":{"name":"lo"},"transform":[{"filter":"datum.p==18"}],"mark":"line","encoding":{"x":{"field":"x","type":"quantitative"},"y":{"field":"y","type":"quantitative","axis":null}}}
]},
{"width":237,"height":234,"layer":[
{"data":{"name":"pts"},"transform":[{"filter":"datum.p==19"}],"mark":"point","encoding":{"x":{"field":"x","type":"quantitative","scale":{"domain":[-0.9,31.9],"nice":false,"zero":false},"axis":{"orient":"bottom","values":[0,5,10,15,20,25,30],"tickCount":10,"labelPadding":22,"labelOverlap":false,"title":null}},"y":{"field":"y","type":"quantitative","scale":{"domain":[-5.6,129.2],"nice":false,"zero":false},"axis":null}}},
{"data":{"values":[{"t":"19"}]},"mark":"rect","encoding":{"x":{"datum":-0.9},"x2":{"datum":31.9},"y":{"datum":107,"axis":null},"y2":{"datum":129.2}}},
{"data":{"values":[{"t":"19"}]},"mark":"text","encoding":{"x":{"datum":15.5},"y":{"datum":118.1,"axis":null},"text":{"field":"t"}}},
{"data":{"name":"reg"},"transform":[{"filter":"datum.p==19"}],"mark":{"type":"line","color":"black","strokeDash":[10,6]},"encoding":{"x":{"field":"x","type":"quantitative"},"y":{"field":"y","type":"quantitative","axis":null}}},
{"data":{"name":"lo"},"transform":[{"filter":"datum.p==19"}],"mark":"line","encoding":{"x":{"field":"x","type":"quantitative"},"y":{"field":"y","type":"quantitative","axis":null}}}
]},
{"width":237,"height":234,"layer":[
{"data":{"name":"pts"},"transform":[{"filter":"datum.p==20"}],"mark":"point","encoding":{"x":{"field":"x","type":"quantitative","scale":{"domain":[-0.9,31.9],"nice":false,"zero":false},"axis":{"orient":"bottom","values":[0,5,10,15,20,25,30],"tickCount":10,"labels":false,"title":null}},"y":{"field":"y","type":"quantitative","scale":{"domain":[-5.6,129.2],"nice":false,"zero":false},"axis":null}}},
{"data":{"values":[{"t":"20"}]},"mark":"rect","encoding":{"x":{"datum":-0.9},"x2":{"datum":31.9},"y":{"datum":107,"axis":null},"y2":{"datum":129.2}}},
{"data":{"values":[{"t":"20"}]},"mark":"text","encoding":{"x":{"datum":15.5},"y":{"datum":118.1,"axis":null},"text":{"field":"t"}}},
{"data":{"name":"reg"},"transform":[{"filter":"datum.p==20"}],"mark":{"type":"line","color":"black","strokeDash":[10,6]},"encoding":{"x":{"field":"x","type":"quantitative"},"y":{"field":"y","type":"quantitative","axis":null}}},
{"data":{"name":"lo"},"transform":[{"filter":"datum.p==20"}],"mark":"line","encoding":{"x":{"field":"x","type":"quantitative"},"y":{"field":"y","type":"quantitative","axis":null}}}
]},
{"width":237,"height":234,"layer":[
{"data":{"name":"pts"},"transform":[{"filter":"datum.p==21"}],"mark":"point","encoding":{"x":{"field":"x","type":"quantitative","scale":{"domain":[-0.9,31.9],"nice":false,"zero":false},"axis":{"orient":"bottom","values":[0,5,10,15,20,25,30],"tickCount":10,"labelPadding":22,"labelOverlap":false,"title":null}},"y":{"field":"y","type":"quantitative","scale":{"domain":[-5.6,129.2],"nice":false,"zero":false},"axis":{"orient":"right","values":[0,20,40,60,80,100],"tickCount":10,"labels":false,"title":null}}}},
{"data":{"values":[{"t":"21"}]},"mark":"rect","encoding":{"x":{"datum":-0.9},"x2":{"datum":31.9},"y":{"datum":107},"y2":{"datum":129.2}}},
{"data":{"values":[{"t":"21"}]},"mark":"text","encoding":{"x":{"datum":15.5},"y":{"datum":118.1},"text":{"field":"t"}}},
{"data":{"name":"reg"},"transform":[{"filter":"datum.p==21"}],"mark":{"type":"line","color":"black","strokeDash":[10,6]},"encoding":{"x":{"field":"x","type":"quantitative"},"y":{"field":"y","type":"quantitative"}}},
{"data":{"name":"lo"},"transform":[{"filter":"datum.p==21"}],"mark":"line","encoding":{"x":{"field":"x","type":"quantitative"},"y":{"field":"y","type":"quantitative"}}}
]}
]
}
